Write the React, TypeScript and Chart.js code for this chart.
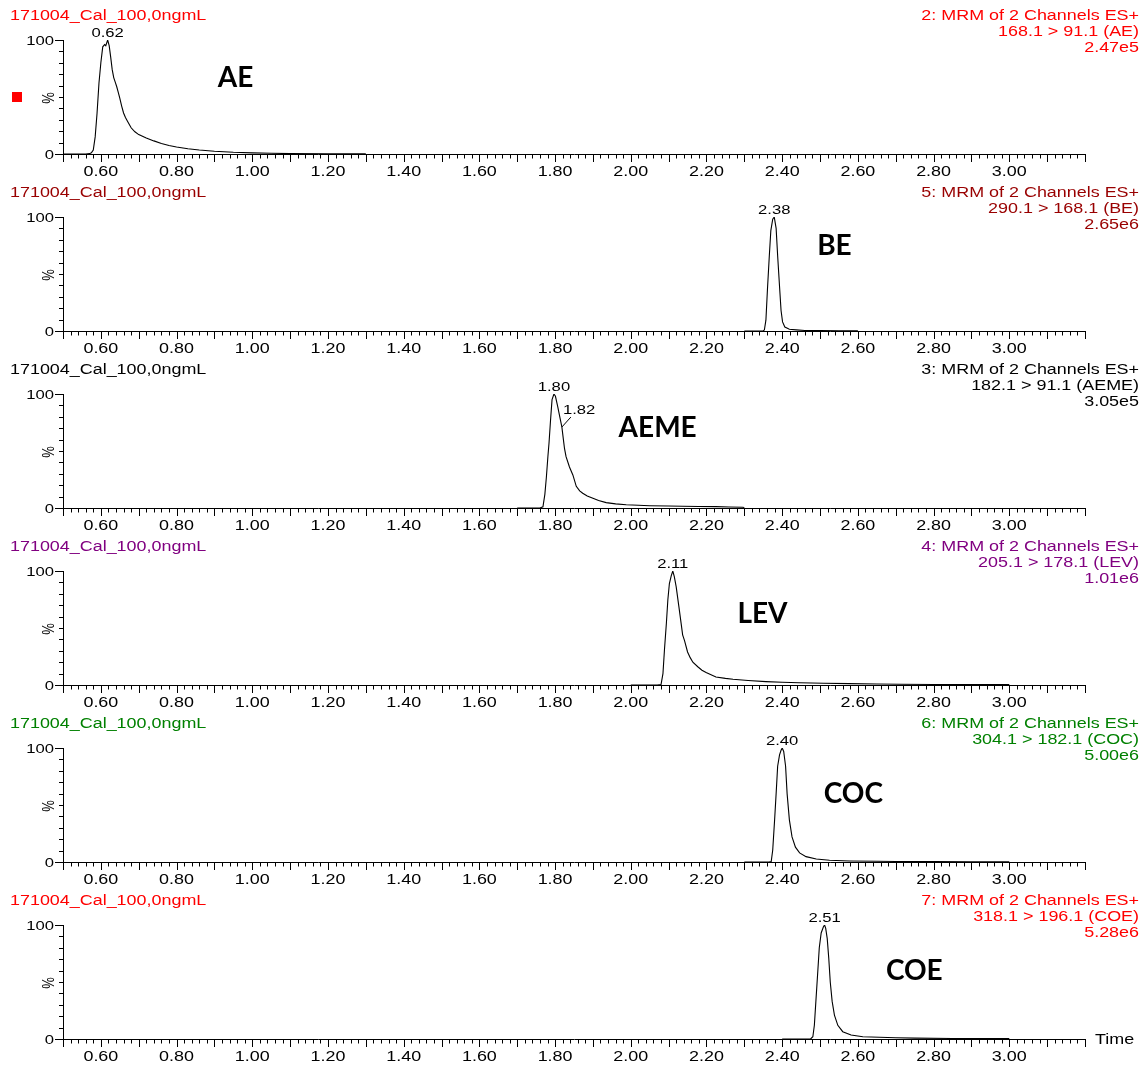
import React, { useEffect, useRef } from "react";
import { Chart, registerables } from "chart.js";

Chart.register(...registerables);

// ---------------- data ----------------
const SAMPLE_NAME = "171004_Cal_100,0ngmL";
const X_MIN = 0.5;
const X_MAX = 3.2;
const X_TICK_LABELS = ["0.60", "0.80", "1.00", "1.20", "1.40", "1.60", "1.80", "2.00", "2.20", "2.40", "2.60", "2.80", "3.00"];
const Y_TICK_LABELS = ["0", "100"];
const X_AXIS_TITLE = "Time";
const Y_AXIS_TITLE = "%";

const COMPOUNDS = ["AE", "BE", "AEME", "LEV", "COC", "COE"];
const CHANNEL_TITLES = [
  "2: MRM of 2 Channels ES+",
  "5: MRM of 2 Channels ES+",
  "3: MRM of 2 Channels ES+",
  "4: MRM of 2 Channels ES+",
  "6: MRM of 2 Channels ES+",
  "7: MRM of 2 Channels ES+",
];
const TRANSITIONS = [
  "168.1 > 91.1 (AE)",
  "290.1 > 168.1 (BE)",
  "182.1 > 91.1 (AEME)",
  "205.1 > 178.1 (LEV)",
  "304.1 > 182.1 (COC)",
  "318.1 > 196.1 (COE)",
];
const MAX_INTENSITY = ["2.47e5", "2.65e6", "3.05e5", "1.01e6", "5.00e6", "5.28e6"];
const PEAK_LABELS = ["0.62", "2.38", "1.80", "2.11", "2.40", "2.51"];
// secondary labelled point (AEME shoulder)
const SHOULDER_LABEL = "1.82";
const SHOULDER_TIME = 1.818;
const SHOULDER_VALUE = 71;

// anchors (data coordinates) for the compound name annotations
const NAME_ANCHOR_T = [0.956, 2.538, 2.071, 2.348, 2.588, 2.749];
const NAME_ANCHOR_V = [67, 75, 70, 62, 60, 60];

const AE_TIME = [0.5, 0.56, 0.57, 0.575, 0.58, 0.585, 0.59, 0.595, 0.6, 0.605, 0.61, 0.613, 0.618, 0.622, 0.626, 0.63, 0.634, 0.638, 0.642, 0.646, 0.65, 0.655, 0.66, 0.665, 0.67, 0.68, 0.69, 0.7, 0.72, 0.74, 0.76, 0.78, 0.8, 0.83, 0.86, 0.9, 0.95, 1.0, 1.05, 1.1, 1.2, 1.3];
const AE_INT = [0, 0, 0.3, 1, 3.5, 15, 36, 62, 80, 94, 96, 95, 100, 95, 85, 74, 67, 63, 59, 54, 49, 42, 36, 32, 29, 23, 19.5, 17, 14, 11.5, 9.2, 7.5, 6.2, 4.6, 3.5, 2.4, 1.5, 1.0, 0.6, 0.4, 0.2, 0.1];

const BE_TIME = [2.3, 2.35, 2.353, 2.357, 2.361, 2.366, 2.37, 2.375, 2.379, 2.384, 2.388, 2.393, 2.397, 2.401, 2.407, 2.419, 2.437, 2.46, 2.5, 2.55, 2.6];
const BE_INT = [0, 0, 1, 9.5, 36, 66, 88, 98, 100, 90, 66, 39, 18, 8, 3.5, 1.5, 1, 0.5, 0.3, 0.2, 0.1];

const AEME_TIME = [1.7, 1.76, 1.768, 1.773, 1.777, 1.781, 1.784, 1.788, 1.792, 1.797, 1.801, 1.807, 1.813, 1.818, 1.822, 1.825, 1.829, 1.838, 1.847, 1.856, 1.865, 1.873, 1.885, 1.9, 1.915, 1.935, 1.96, 1.988, 2.02, 2.05, 2.1, 2.137, 2.18, 2.225, 2.26, 2.295, 2.3];
const AEME_INT = [0, 0, 1, 12, 27, 45, 57, 77, 95, 100, 98, 89, 79, 71, 60, 52, 45, 36, 29, 19, 15, 13, 10.5, 8.5, 6.5, 4.7, 3.6, 2.9, 2.4, 2, 1.7, 1.5, 1.3, 1.2, 0.9, 0.6, 0.5];

const LEV_TIME = [2.0, 2.07, 2.08, 2.085, 2.089, 2.094, 2.098, 2.102, 2.107, 2.111, 2.115, 2.12, 2.127, 2.133, 2.137, 2.142, 2.15, 2.157, 2.164, 2.177, 2.188, 2.199, 2.225, 2.25, 2.27, 2.31, 2.357, 2.4, 2.445, 2.51, 2.578, 2.65, 2.71, 2.8, 2.9, 3.0];
const LEV_INT = [0, 0, 0.5, 10, 31, 54, 75, 89, 96, 100, 95, 86, 69, 54, 44, 39, 29, 24, 20, 16, 13, 11, 7, 5.8, 5, 4, 3, 2.4, 2, 1.6, 1.2, 0.9, 0.6, 0.5, 0.4, 0.3];

const COC_TIME = [2.3, 2.365, 2.371, 2.375, 2.38, 2.384, 2.388, 2.393, 2.397, 2.4, 2.404, 2.409, 2.413, 2.419, 2.426, 2.435, 2.446, 2.463, 2.49, 2.525, 2.578, 2.65, 2.7, 2.8, 2.9, 3.0];
const COC_INT = [0, 0, 0.3, 10.5, 37, 60, 84, 94, 98, 100, 97, 84, 60, 37, 22, 13, 8, 4.7, 2.6, 1.5, 0.9, 0.6, 0.5, 0.3, 0.25, 0.2];

const COE_TIME = [2.4, 2.475, 2.481, 2.485, 2.489, 2.494, 2.498, 2.503, 2.509, 2.512, 2.515, 2.519, 2.523, 2.527, 2.532, 2.538, 2.547, 2.56, 2.582, 2.613, 2.657, 2.7, 2.75, 2.85, 2.9, 3.0];
const COE_INT = [0, 0, 2, 12, 33, 59, 80, 93, 98.5, 100, 97, 88, 71, 50, 33, 21, 12, 6.4, 3.5, 2, 1.5, 1.1, 0.8, 0.5, 0.4, 0.3];

const SERIES_TIME = [AE_TIME, BE_TIME, AEME_TIME, LEV_TIME, COC_TIME, COE_TIME];
const SERIES_INT = [AE_INT, BE_INT, AEME_INT, LEV_INT, COC_INT, COE_INT];

// ---------------- styles ----------------
const HEADER_COLORS = ["#ff0000", "#990000", "#000000", "#800080", "#008000", "#ff0000"];
const SX = 1.28; // horizontal stretch of the instrument-style text
const FONT_FAMILY = '"Liberation Sans", Arial, sans-serif';
const PANEL_H = 177;
const LAST_PANEL_H = 182;
const CANVAS_W = 1148;

function stretchedText(
  ctx: CanvasRenderingContext2D,
  text: string,
  x: number,
  y: number,
  align: CanvasTextAlign,
  baseline: CanvasTextBaseline,
  size: number,
  color: string
) {
  ctx.save();
  ctx.translate(x, y);
  ctx.scale(SX, 1);
  ctx.font = `${size}px ${FONT_FAMILY}`;
  ctx.fillStyle = color;
  ctx.textAlign = align;
  ctx.textBaseline = baseline;
  ctx.fillText(text, 0, 0);
  ctx.restore();
}

function makeDecorPlugin(idx: number, isLast: boolean) {
  return {
    id: "chromDecor" + idx,
    afterDraw(chart: any) {
      const ctx: CanvasRenderingContext2D = chart.ctx;
      const { left, right, top, bottom } = chart.chartArea;
      const xs = chart.scales.x;
      const ys = chart.scales.y;
      const color = HEADER_COLORS[idx];
      ctx.save();
      ctx.strokeStyle = "#000";
      ctx.lineWidth = 1;

      // y ticks
      for (let v = 0; v <= 100; v += 10) {
        const y = Math.round(ys.getPixelForValue(v)) + 0.5;
        const len = v === 0 || v === 100 ? 8 : 4;
        ctx.beginPath();
        ctx.moveTo(left - len, y);
        ctx.lineTo(left + 0.5, y);
        ctx.stroke();
      }
      // x ticks
      const n = Math.round((X_MAX - X_MIN) / 0.02);
      for (let i = 0; i <= n; i++) {
        const v = X_MIN + i * 0.02;
        const x = Math.round(xs.getPixelForValue(v)) + 0.5;
        const len = i % 5 === 0 ? 7 : 3.5;
        ctx.beginPath();
        ctx.moveTo(x, bottom);
        ctx.lineTo(x, bottom + 1 + len);
        ctx.stroke();
      }
      // x tick labels
      X_TICK_LABELS.forEach((lab) => {
        const x = xs.getPixelForValue(parseFloat(lab));
        stretchedText(ctx, lab, x, bottom + 22, "center", "alphabetic", 14, "#000");
      });
      // y tick labels
      Y_TICK_LABELS.forEach((lab) => {
        const y = ys.getPixelForValue(parseFloat(lab));
        stretchedText(ctx, lab, left - 9, y + 1, "right", "middle", 13, "#000");
      });
      // % label
      ctx.save();
      ctx.translate(left - 14, (top + bottom) / 2 + 1);
      ctx.scale(SX, 1);
      ctx.rotate(-Math.PI / 2);
      ctx.font = `13px ${FONT_FAMILY}`;
      ctx.fillStyle = "#000";
      ctx.textAlign = "center";
      ctx.textBaseline = "middle";
      ctx.fillText(Y_AXIS_TITLE, 0, 0);
      ctx.restore();

      // headers
      stretchedText(ctx, SAMPLE_NAME, 10, 20, "left", "alphabetic", 14, color);
      stretchedText(ctx, CHANNEL_TITLES[idx], 1139, 20, "right", "alphabetic", 14, color);
      stretchedText(ctx, TRANSITIONS[idx], 1139, 36, "right", "alphabetic", 14, color);
      stretchedText(ctx, MAX_INTENSITY[idx], 1139, 52, "right", "alphabetic", 14, color);

      // peak label at apex
      const ints = SERIES_INT[idx];
      let mi = 0;
      for (let i = 1; i < ints.length; i++) if (ints[i] > ints[mi]) mi = i;
      const px = xs.getPixelForValue(SERIES_TIME[idx][mi]);
      const py = ys.getPixelForValue(ints[mi]);
      stretchedText(ctx, PEAK_LABELS[idx], px, py - 3, "center", "alphabetic", 13, "#000");

      if (COMPOUNDS[idx] === "AEME") {
        const sx = xs.getPixelForValue(SHOULDER_TIME);
        const sy = ys.getPixelForValue(SHOULDER_VALUE);
        ctx.beginPath();
        ctx.moveTo(sx, sy);
        ctx.lineTo(sx + 9, sy - 10);
        ctx.stroke();
        stretchedText(ctx, SHOULDER_LABEL, sx + 1, sy - 13, "left", "alphabetic", 13, "#000");
      }

      // compound name
      ctx.font = 'bold 28px Lato, "Open Sans", sans-serif';
      ctx.fillStyle = "#000";
      ctx.textAlign = "center";
      ctx.textBaseline = "middle";
      ctx.fillText(
        COMPOUNDS[idx],
        xs.getPixelForValue(NAME_ANCHOR_T[idx]),
        ys.getPixelForValue(NAME_ANCHOR_V[idx])
      );

      if (idx === 0) {
        ctx.fillStyle = "#ff0000";
        ctx.fillRect(left - 51, (top + bottom) / 2 - 5, 10, 10);
      }
      if (isLast) {
        stretchedText(ctx, X_AXIS_TITLE, right + 10, bottom + 1, "left", "middle", 14, "#000");
      }
      ctx.restore();
    },
  };
}

function Panel({ idx, isLast }: { idx: number; isLast: boolean }) {
  const ref = useRef<HTMLCanvasElement | null>(null);
  const h = isLast ? LAST_PANEL_H : PANEL_H;
  useEffect(() => {
    if (!ref.current) return;
    const times = SERIES_TIME[idx];
    const ints = SERIES_INT[idx];
    const chart = new Chart(ref.current, {
      type: "scatter",
      data: {
        datasets: [
          {
            data: times.map((t, i) => ({ x: t, y: ints[i] })),
            showLine: true,
            borderColor: "#000",
            borderWidth: 1.1,
            pointRadius: 0,
            tension: 0,
            fill: false,
          },
        ],
      },
      options: {
        responsive: true,
        maintainAspectRatio: false,
        animation: false,
        events: [],
        layout: { padding: { left: 0, right: 63, top: 40, bottom: 0 } },
        plugins: { legend: { display: false }, tooltip: { enabled: false }, title: { display: false } },
        scales: {
          x: {
            type: "linear",
            min: X_MIN,
            max: X_MAX,
            grid: { display: false },
            border: { display: true, color: "#000", width: 1 },
            ticks: { display: false },
            afterFit: (s: any) => {
              s.height = h - 154;
            },
          },
          y: {
            type: "linear",
            min: 0,
            max: 100,
            grid: { display: false },
            border: { display: true, color: "#000", width: 1 },
            ticks: { display: false },
            afterFit: (s: any) => {
              s.width = 63;
            },
          },
        },
      },
      plugins: [makeDecorPlugin(idx, isLast)],
    } as any);
    return () => chart.destroy();
  }, [idx, isLast, h]);
  return (
    <div style={{ position: "relative", width: CANVAS_W, height: h }}>
      <canvas ref={ref} />
    </div>
  );
}

export default function App() {
  return (
    <div style={{ position: "absolute", left: 0, top: 0, width: CANVAS_W, background: "#fff" }}>
      {COMPOUNDS.map((c, i) => (
        <Panel key={c} idx={i} isLast={i === COMPOUNDS.length - 1} />
      ))}
    </div>
  );
}
